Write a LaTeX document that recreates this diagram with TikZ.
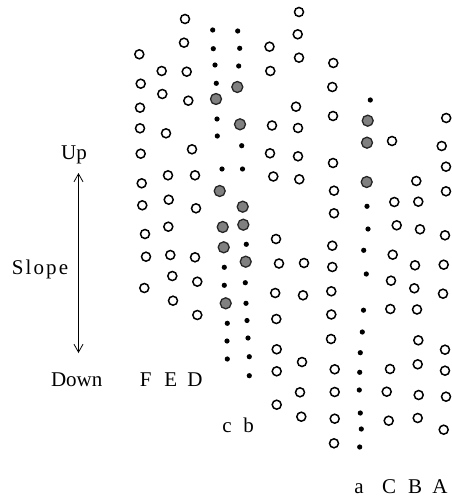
\documentclass[tikz,border=0pt]{standalone}
\usepackage{fontspec}
\setmainfont{Liberation Serif}
\usetikzlibrary{arrows.meta}
\begin{document}
\begin{tikzpicture}[x=1pt,y=-1pt,
  opn/.style={circle,draw=black,line width=1.5pt,minimum size=9pt,inner sep=0pt},
  bigdot/.style={circle,draw=black!85,line width=1.3pt,fill=black!50,minimum size=11pt,inner sep=0pt},
  smldot/.style={circle,fill=black,minimum size=5.2pt,inner sep=0pt},
  lbl/.style={font=\fontsize{21}{24}\selectfont,inner sep=0pt,anchor=base},
  slopearrow/.style={line width=0.8pt,{Straight Barb[length=8pt,width=9pt]}-{Straight Barb[length=8pt,width=9pt]}}]
\useasboundingbox (0,0) rectangle (451,497);

% open circles, column by column
\foreach \p [count=\i] in {{139.3,54.3},{140.7,83.7},{140,107.7},{140,128.3},{140.7,153.7},{141.7,183.3},{142.3,205.3},{145,234},{146,256.7},{144.3,288}}
  \node[opn] (F\i) at (\p) {};
\foreach \p [count=\i] in {{161.7,71},{162.3,94},{166,133.3},{168,175.3},{168.7,199.7},{168.3,226.7},{170.3,255},{172.3,276},{173,300.7}}
  \node[opn] (E\i) at (\p) {};
\foreach \p [count=\i] in {{185,19},{184,42.7},{186.7,71.7},{188.3,100.7},{192,149.3},{195,175.3},{196,208.3},{195,257.3},{197.3,281.7},{197.3,315}}
  \node[opn] (D\i) at (\p) {};
\foreach \p [count=\i] in {{269.5,46.7},{270.3,71},{272,125.5},{270,153.3},{273.3,176.5},{276,239},{279,263.5},{275.2,293},{276.3,319},{276.7,349.3},{276.7,371.3},{276.7,404.7}}
  \node[opn] (G\i) at (\p) {};
\foreach \p [count=\i] in {{299,12},{297.7,34.3},{299,57.7},{296,106.7},{298,128},{298,156.3},{299.3,179.3},{304,263},{303,295.3},{302,362},{300,392.3},{301.3,416.7}}
  \node[opn] (H\i) at (\p) {};
\foreach \p [count=\i] in {{333.3,63},{332.3,87},{333,116},{333,163},{334,190.7},{334,213.3},{332.3,245.7},{332.3,267},{331.3,291.3},{331.3,314.5},{331,339},{334.7,369.3},{334.7,392},{334.7,418.7},{334,443.3}}
  \node[opn] (I\i) at (\p) {};
\foreach \p [count=\i] in {{392,141},{394.3,202},{396.7,225.3},{392.7,254.7},{391,280.7},{390.3,309},{390,369},{386.7,391.7},{388.7,420.7}}
  \node[opn] (C\i) at (\p) {};
\foreach \p [count=\i] in {{416.3,181},{418.3,201.7},{420,229.3},{415,265.3},{414.3,288.3},{417,309.5},{418.3,340.3},{417.7,364.3},{418.7,395},{417.7,418}}
  \node[opn] (B\i) at (\p) {};
\foreach \p [count=\i] in {{446.2,118},{441.7,146},{446,166.7},{446,191.3},{445,235.3},{443.7,264.7},{443,293.7},{445,349.7},{445,370.7},{446,396.7},{443.7,429.7}}
  \node[opn] (A\i) at (\p) {};

% dotted lines c, b and a: small and large dots
\foreach \p [count=\i] in {{212.7,30},{213.3,48.7},{215,65},{216.3,83.3},{217,119},{217.3,136},{222,169},{224.3,267.3},{224.3,285.3},{227.3,323.3},{227,341},{227.3,359}}
  \node[smldot] (cs\i) at (\p) {};
\foreach \p [count=\i] in {{216,99},{219.7,191},{222.7,227},{223.7,247.3},{225.7,303.3}}
  \node[bigdot] (cb\i) at (\p) {};
\foreach \p [count=\i] in {{237.7,31},{239.7,48.3},{238.7,66},{241.7,145.7},{242.5,169},{246.3,244.3},{245.3,282.7},{246,303.3},{247,320.5},{248,338},{249.3,356.7},{249.3,375.7}}
  \node[smldot] (bs\i) at (\p) {};
\foreach \p [count=\i] in {{237.3,87},{240,124.3},{242.7,206.7},{243.3,224.7},{245.7,261.7}}
  \node[bigdot] (bb\i) at (\p) {};
\foreach \p [count=\i] in {{370.3,100},{367,206.3},{368,229},{363.7,250.3},{366.3,274},{363.5,310.2},{362.3,332},{360.3,352.7},{359.7,372.3},{359.3,390},{360.3,413},{361.3,429},{359.7,447}}
  \node[smldot] (as\i) at (\p) {};
\foreach \p [count=\i] in {{367.7,120.7},{367,142.7},{366.7,182}}
  \node[bigdot] (ab\i) at (\p) {};

% slope indicator
\node[lbl] (up) at (74,159.3) {Up};
\node[lbl] (slope) at (40,274) {\addfontfeatures{LetterSpace=10}Slope};
\node[lbl] (down) at (76.7,386) {Down};
\coordinate (arrtop) at (78.5,173);
\coordinate (arrbot) at (78.5,353);
\draw[slopearrow] (arrtop) -- (arrbot);

% column labels
\node[lbl] (lF) at (145.8,386) {F};
\node[lbl] (lE) at (170.8,386) {E};
\node[lbl] (lD) at (195,386) {D};
\node[lbl] (lc) at (227,432.5) {c};
\node[lbl] (lb) at (248.7,432.5) {b};
\node[lbl] (la) at (359,493) {a};
\node[lbl] (lC) at (389,493) {C};
\node[lbl] (lB) at (415,493) {B};
\node[lbl] (lA) at (440,493) {A};
\end{tikzpicture}
\end{document}
